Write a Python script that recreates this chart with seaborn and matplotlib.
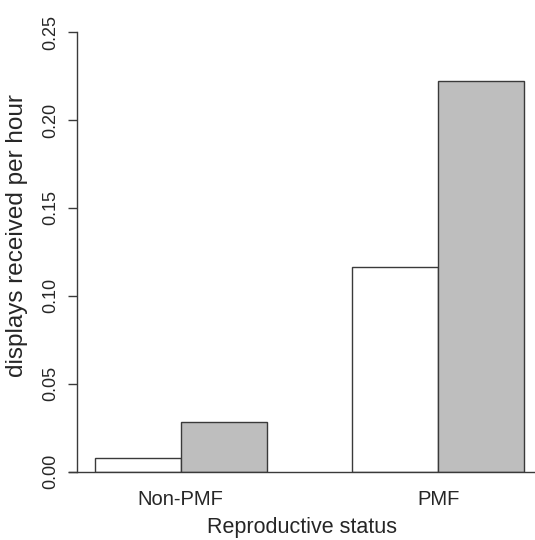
import matplotlib
matplotlib.use("Agg")
import matplotlib.pyplot as plt
import pandas as pd
import seaborn as sns

# ── Data ─────────────────────────────────────────────────────────────────────
statuses = ["Non-PMF", "PMF"]
groups = ["group 1", "group 2"]
rate_group1 = [0.0075, 0.1166]
rate_group2 = [0.0280, 0.2220]
yticks = [0.00, 0.05, 0.10, 0.15, 0.20, 0.25]

df = pd.DataFrame({
    "status": statuses * 2,
    "group": [groups[0]] * len(statuses) + [groups[1]] * len(statuses),
    "rate": rate_group1 + rate_group2,
})

sns.set_style("ticks")
plt.rcParams["font.family"] = ["Liberation Sans", "DejaVu Sans"]

fig = plt.figure(figsize=(5.35, 5.4), dpi=100)
ax = fig.add_axes([69 / 535, (540 - 471.5) / 540, 466 / 535, 451.5 / 540])

edge = "#3a3a3a"
sns.barplot(
    data=df, x="status", y="rate", hue="group",
    palette=["white", "#bebebe"], edgecolor=edge, linewidth=1.0,
    width=2 / 3, gap=0, errorbar=None, legend=False, ax=ax,
)

ax.set_xlim(-1 / 3 - 26 / 257.4, 4 / 3 + 11 / 257.4)
ax.set_ylim(0, 0.257)

# R-like axes: y axis only between 0 and 0.25, baseline across the whole panel
ax.spines["top"].set_visible(False)
ax.spines["right"].set_visible(False)
ax.spines["left"].set_position(("axes", 8 / 466))
ax.spines["left"].set_bounds(0, 0.25)
for s in ("left", "bottom"):
    ax.spines[s].set_color(edge)
    ax.spines[s].set_linewidth(1.0)

ax.set_yticks(yticks)
ax.set_yticklabels([f"{v:.2f}" for v in yticks], rotation=90, va="center")
ax.tick_params(axis="y", length=6.5, width=1.0, color=edge, pad=6, labelsize=13)
ax.tick_params(axis="x", length=0, pad=13, labelsize=14.5)

ax.set_xlabel("Reproductive status", fontsize=15.5, labelpad=6)
ax.set_ylabel("displays received per hour", fontsize=17.5)
ax.yaxis.set_label_coords(-0.088, 0.522)

fig.savefig("out.png", dpi=100)
